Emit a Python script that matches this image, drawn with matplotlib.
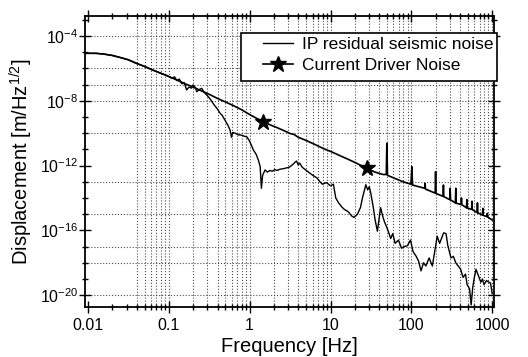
import numpy as np
import matplotlib
matplotlib.use("Agg")
import matplotlib.pyplot as plt
from matplotlib.ticker import FixedLocator, NullFormatter, FuncFormatter
from matplotlib.patches import Rectangle

plt.rcParams['font.family'] = ['Liberation Sans', 'DejaVu Sans']
plt.rcParams['mathtext.default'] = 'regular'

# values, as log10(frequency [Hz]) and log10(displacement)
driver_logf = [-2.04, -1.9, -1.8, -1.7, -1.6, -1.5, -1.4, -1.3, -1.2, -1.1, -1.0,
               -0.9, -0.8, -0.7, -0.6, -0.5, -0.4, -0.3, -0.2, -0.1, 0.0, 0.1,
               0.17, 0.25, 0.35, 0.45, 0.5, 0.55, 0.6, 0.7, 0.8, 0.87, 0.95, 1.0,
               1.1, 1.2, 1.3, 1.38, 1.45, 1.55, 1.65, 1.69, 1.697, 1.705, 1.8, 1.9,
               1.995, 2.006, 2.015, 2.165, 2.17, 2.175, 2.295, 2.30, 2.305,
               2.392, 2.397, 2.402, 2.475, 2.48, 2.485, 2.545, 2.55, 2.555,
               2.615, 2.62, 2.625, 2.682, 2.687, 2.692, 2.745, 2.75, 2.755,
               2.813, 2.818, 2.823, 2.88, 2.885, 2.89, 2.935, 2.94, 2.945, 3.0]
driver_logd = [-5.07, -5.07, -5.12, -5.2, -5.33, -5.47, -5.69, -5.88, -6.1, -6.3, -6.5,
               -6.72, -6.95, -7.15, -7.38, -7.6, -7.85, -8.07, -8.3, -8.55, -8.85, -9.12,
               -9.29, -9.48, -9.68, -9.9, -10.02, -10.08, -10.25, -10.45, -10.68, -10.85, -11.03, -11.12,
               -11.35, -11.57, -11.8, -12.0, -12.17, -12.4, -12.55, -12.55, -10.62, -12.6, -12.8, -13.0,
               -13.15, -12.07, -13.2, -13.4, -13.1, -13.45, -13.7, -12.38, -13.72,
               -13.9, -13.2, -13.92, -14.1, -13.4, -14.12, -14.3, -13.4, -14.32,
               -14.4, -14.0, -14.42, -14.6, -14.1, -14.62, -14.7, -14.2, -14.72,
               -14.9, -14.3, -14.92, -15.05, -14.64, -15.07, -15.15, -14.95, -15.17, -15.36]
star_index = [22, 38]

ip_logf = [-2.04, -1.9, -1.8, -1.7, -1.6, -1.5, -1.4, -1.3, -1.2, -1.1, -1.02,
           -0.96, -0.93, -0.9, -0.87, -0.84, -0.81, -0.78, -0.75, -0.72, -0.7, -0.67,
           -0.655, -0.62, -0.593, -0.57, -0.552, -0.52, -0.48, -0.44, -0.4, -0.366, -0.34,
           -0.3, -0.27, -0.243, -0.225, -0.21, -0.18, -0.14, -0.1, -0.06, -0.036, 0.0,
           0.046, 0.08, 0.11, 0.13, 0.145, 0.16, 0.19, 0.22, 0.25, 0.28, 0.31, 0.34,
           0.376, 0.41, 0.45, 0.49, 0.53, 0.56, 0.58, 0.6, 0.62, 0.65, 0.7, 0.74, 0.78,
           0.83, 0.87, 0.9, 0.95, 1.0, 1.036, 1.065, 1.1, 1.14, 1.17, 1.22, 1.26, 1.29,
           1.333, 1.37, 1.395, 1.437, 1.46, 1.48, 1.5, 1.53, 1.55, 1.58, 1.6, 1.62, 1.65,
           1.67, 1.7, 1.745, 1.77, 1.8, 1.84, 1.88, 1.91, 1.95, 1.99, 2.02, 2.06, 2.09,
           2.12, 2.15, 2.18, 2.22, 2.26, 2.29, 2.32, 2.35, 2.38, 2.4, 2.43, 2.45, 2.49,
           2.52, 2.55, 2.58, 2.61, 2.64, 2.67, 2.69, 2.72, 2.74, 2.76, 2.78, 2.8, 2.83,
           2.86, 2.88, 2.9, 2.93, 2.96, 2.98, 3.0]
ip_logd = [-5.07, -5.07, -5.12, -5.2, -5.33, -5.47, -5.69, -5.88, -6.1, -6.3, -6.45,
           -6.62, -6.52, -6.75, -6.66, -6.95, -6.88, -7.33, -7.15, -7.22, -7.02, -7.2,
           -7.44, -7.3, -7.23, -7.42, -7.54, -7.7, -7.95, -8.25, -8.5, -8.77, -8.9,
           -9.25, -9.5, -9.8, -10.25, -9.95, -10.0, -10.1, -10.12, -10.2, -10.22, -10.5,
           -11.04, -11.3, -11.7, -12.07, -13.4, -12.6, -12.27, -12.4, -12.3, -12.35, -12.25, -12.3,
           -12.22, -12.2, -12.15, -12.1, -11.95, -11.8, -11.72, -11.95, -11.85, -12.1, -12.3, -12.45, -12.6,
           -12.75, -13.0, -13.15, -13.05, -13.25, -13.15, -14.0, -14.3, -14.55, -14.7, -14.85, -15.1, -15.2,
           -15.0, -14.6, -14.0, -13.18, -13.5, -13.3, -13.75, -14.6, -15.3, -16.05, -15.3, -14.6, -15.2,
           -15.5, -15.85, -16.5, -16.2, -16.8, -16.6, -17.1, -17.0, -16.95, -16.6, -17.3, -17.6, -17.9,
           -18.5, -18.0, -18.2, -17.7, -18.2, -17.3, -16.36, -16.8, -16.4, -16.15, -16.2, -16.9, -17.7,
           -17.6, -18.0, -18.2, -18.4, -18.9, -18.7, -19.35, -19.6, -20.6, -19.5, -18.9, -18.4, -18.8,
           -19.2, -19.0, -19.35, -19.1, -19.2, -19.25, -19.9]

xtick_labels = ['0.01', '0.1', '1', '10', '100', '1000']
ytick_exps = [-4, -8, -12, -16, -20]
hgrid_exps = [-4, -6, -7, -8, -10, -13, -15, -17, -18, -20]

fig = plt.figure(figsize=(5.28, 3.57), dpi=100)
ax = fig.add_axes([0.161, 0.140, 0.775, 0.815])

# dotted grid like the scanned original
for e in hgrid_exps:
    ax.axhline(10.0 ** e, color='0.3', linestyle=':', linewidth=0.8, zorder=1)
for dec in [-2, -1, 0, 1, 2]:
    for m in range(1, 10):
        f = m * 10.0 ** dec
        if f >= 0.04:
            ax.axvline(f, color='0.3', linestyle=':', linewidth=0.8, zorder=1)
ax.axvline(1000, color='0.3', linestyle=':', linewidth=0.8, zorder=1)

f_drv = np.power(10.0, driver_logf)
d_drv = np.power(10.0, driver_logd)
f_ip = np.power(10.0, ip_logf)
d_ip = np.power(10.0, ip_logd)

l1, = ax.plot(f_ip, d_ip, color='black', linewidth=1.0, zorder=3,
              label='IP residual seismic noise')
l2, = ax.plot(f_drv, d_drv, color='black', linewidth=1.2, zorder=3,
              marker='*', markersize=12, markevery=star_index,
              label='Current Driver Noise')

ax.set_xscale('log')
ax.set_yscale('log')
ax.set_xlim(0.00918, 1060)
ax.set_ylim(10 ** -20.73, 10 ** -2.77)

ax.xaxis.set_major_locator(FixedLocator([float(s) for s in xtick_labels]))
ax.xaxis.set_major_formatter(FuncFormatter(lambda v, p: xtick_labels[int(round(np.log10(v))) + 2]))
ax.xaxis.set_minor_locator(FixedLocator([m * 10.0 ** d for d in range(-2, 3) for m in range(2, 10)]))
ax.xaxis.set_minor_formatter(NullFormatter())

ax.yaxis.set_major_locator(FixedLocator([10.0 ** e for e in ytick_exps]))
ax.yaxis.set_major_formatter(FuncFormatter(lambda v, p: r'$10^{%d}$' % int(round(np.log10(v)))))
ax.yaxis.set_minor_locator(FixedLocator([10.0 ** e for e in range(-20, -2)]))
ax.yaxis.set_minor_formatter(NullFormatter())

ax.tick_params(which='both', direction='inout', top=True, right=True, width=1.0, colors='black')
ax.tick_params(which='major', length=8, labelsize=11.5)
ax.tick_params(which='minor', length=5)
ax.tick_params(axis='x', which='major', pad=4)
ax.tick_params(axis='y', which='major', pad=1)
for s in ax.spines.values():
    s.set_linewidth(1.3)

ax.set_xlabel('Frequency [Hz]', fontsize=14.5, labelpad=3)
ax.set_ylabel(r'Displacement [m/Hz$^{1/2}$]', fontsize=14.5, labelpad=3)

# legend box drawn by hand, text spills over its right edge as in the scan
ax.add_patch(Rectangle((0.381, 0.777), 0.626, 0.165, transform=ax.transAxes,
                       facecolor='white', edgecolor='black', linewidth=1.2,
                       zorder=4, clip_on=False))
leg = ax.legend(handles=[l1, l2], loc='upper left', bbox_to_anchor=(263 / 528, 1 - 37 / 357),
                bbox_transform=fig.transFigure, frameon=False, fontsize=12.5,
                borderpad=0, borderaxespad=0, handlelength=1.75, handletextpad=0.5,
                labelspacing=0.35, numpoints=1)
leg.set_zorder(5)

fig.savefig('out.png', dpi=100)
